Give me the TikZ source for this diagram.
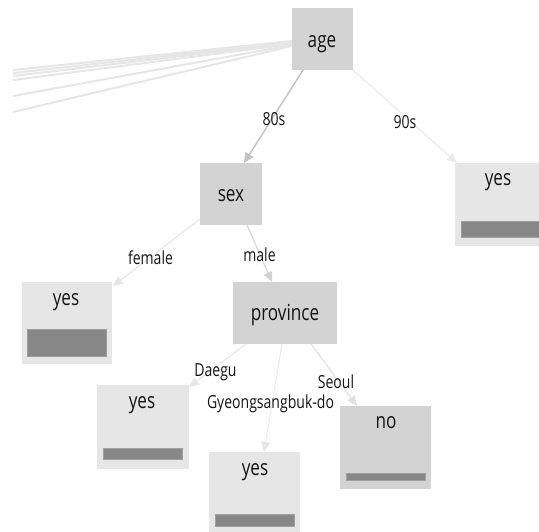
\documentclass[tikz,border=0pt]{standalone}
\usepackage{fontspec}
\setmainfont{Open Sans}[FakeStretch=0.78]
\usetikzlibrary{arrows.meta}
\definecolor{dec}{HTML}{D3D3D3}
\definecolor{leaf}{HTML}{E6E6E6}
\definecolor{barc}{HTML}{878787}
\definecolor{txt}{HTML}{151515}
\tikzset{
  box/.style={rectangle, inner sep=0pt, anchor=north west},
  decbox/.style={box, fill=dec},
  leafbox/.style={box, fill=leaf},
  bar/.style={rectangle, inner sep=0pt, anchor=north west, fill=barc, draw=barc!80!white, line width=0.4pt},
  ntext/.style={anchor=base, inner sep=0pt, text=txt, font=\fontsize{22}{22}\selectfont},
  etext/.style={anchor=base, inner sep=0pt, text=txt, font=\fontsize{18}{18}\selectfont},
  edge/.style={line width=1.1pt, -{Triangle[length=10pt,width=9pt]}},
  farline/.style={line width=2pt, draw=leaf},
}
\begin{document}
\begin{tikzpicture}[x=1pt,y=-1pt]
\useasboundingbox (0,0) rectangle (539,531);
% boxes
\node[decbox, minimum width=61pt, minimum height=62pt] (age) at (292,8) {};
\node[decbox, minimum width=62pt, minimum height=62pt] (sex) at (200,163) {};
\node[decbox, minimum width=104pt, minimum height=62pt] (prov) at (233,282) {};
\node[leafbox, minimum width=90pt, minimum height=82pt] (yesA) at (22,282) {};
\node[leafbox, minimum width=90pt, minimum height=83pt] (yesB) at (455,163) {};
\node[leafbox, minimum width=92pt, minimum height=84pt] (yesC) at (97,385) {};
\node[leafbox, minimum width=91pt, minimum height=84pt] (yesD) at (209,452) {};
\node[decbox, minimum width=91pt, minimum height=83pt] (no) at (340,406) {};
% bars
\node[bar, minimum width=79pt, minimum height=27pt] (barA) at (27,329) {};
\node[bar, minimum width=80pt, minimum height=16pt] (barB) at (461,221) {};
\node[bar, minimum width=79pt, minimum height=11pt] (barC) at (103,448) {};
\node[bar, minimum width=79pt, minimum height=12pt] (barD) at (215,514) {};
\node[bar, minimum width=79pt, minimum height=7pt] (barN) at (346,473) {};
% texts
\node[ntext] (tage) at (322,47) {age};
\node[ntext] (tsex) at (231,201) {sex};
\node[ntext] (tprov) at (285,320) {province};
\node[ntext] (tyA) at (66,305) {yes};
\node[ntext] (tyB) at (498,185) {yes};
\node[ntext] (tyC) at (142,408) {yes};
\node[ntext] (tyD) at (255,475) {yes};
\node[ntext] (tno) at (386,428) {no};
% far lines
\coordinate (f1) at (13,70);
\coordinate (f2) at (13,73);
\coordinate (f3) at (13,76);
\coordinate (f4) at (13,80);
\coordinate (f5) at (13,96);
\coordinate (f6) at (13,112);
\foreach \f/\yy in {f1/41,f2/42,f3/43,f4/44,f5/45,f6/46}
  \draw[farline] (age.west |- 0,\yy) -- (\f);
% edges
\coordinate (a80) at (303,70);
\coordinate (a90) at (353,70);
\draw[edge, draw=dec!92!black, fill=dec!92!black, line width=1.4pt] (a80) -- (244,163);
\draw[edge, draw=leaf!80!white, fill=leaf!80!white] (a90) -- (457,163);
\coordinate (sf) at (200,219);
\coordinate (sm) at (247,225);
\draw[edge, draw=leaf, fill=leaf] (sf) -- (113,286);
\draw[edge, draw=dec, fill=dec] (sm) -- (272,282);
\coordinate (pd) at (246,344);
\coordinate (pg) at (282,344);
\coordinate (ps) at (311,344);
\draw[edge, draw=leaf, fill=leaf] (pd) -- (189,387);
\draw[edge, draw=leaf, fill=leaf, line width=0.8pt] (pg) -- (264,452);
\draw[edge, draw=dec!70!white, fill=dec!70!white] (ps) -- (357,406);
% edge labels
\node[etext] (l80) at (274,125) {80s};
\node[etext] (l90) at (405,128) {90s};
\node[etext] (lf) at (150.5,264) {female};
\node[etext] (lm) at (259.5,261) {male};
\node[etext] (ld) at (215.5,376) {Daegu};
\node[etext] (lg) at (270.5,408) {Gyeongsangbuk-do};
\node[etext] (ls) at (336,388) {Seoul};
\end{tikzpicture}
\end{document}
